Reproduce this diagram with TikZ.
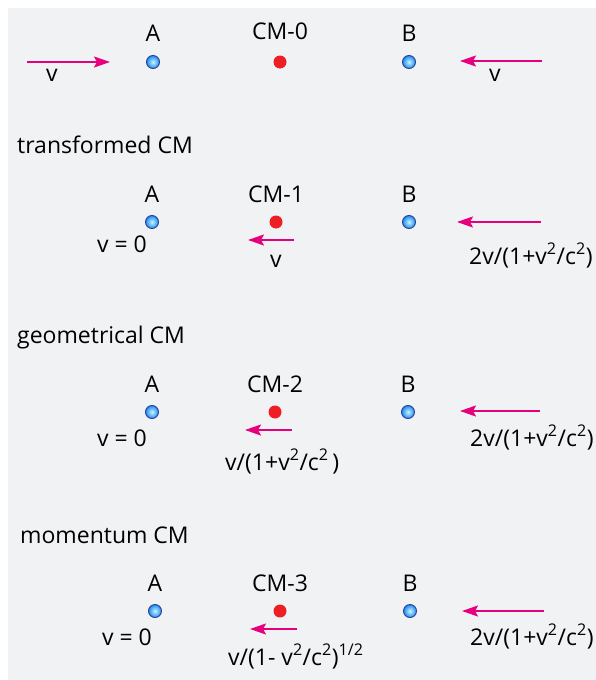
\documentclass[tikz,border=0pt]{standalone}
\usepackage{fontspec}
\setmainfont{Open Sans}
\usetikzlibrary{arrows.meta}
\definecolor{bg}{RGB}{241,242,244}
\definecolor{mag}{RGB}{230,0,126}
\definecolor{cmred}{RGB}{237,30,36}
\definecolor{dotblue}{RGB}{30,140,235}
\definecolor{dotin}{RGB}{200,245,255}
\definecolor{dotrim}{RGB}{40,60,160}
\newcommand{\mysup}[1]{\textsuperscript{#1}}
\newcommand{\vsqc}{v\mysup{2}/c\mysup{2}}
\begin{document}
\begin{tikzpicture}[x=1pt,y=-1pt,
  lbl/.style={inner sep=0pt, anchor=base, font=\fontsize{23}{27}\selectfont},
  lblw/.style={lbl, anchor=base west},
  bdot/.style={circle, minimum size=13pt, inner sep=0pt, draw=dotrim, line width=0.9pt, inner color=dotin, outer color=dotblue},
  rdot/.style={circle, minimum size=13pt, inner sep=0pt, fill=cmred},
  varrow/.style={draw=mag, line width=2pt, -{Stealth[length=16pt,width=11pt,inset=3pt]}}]
\useasboundingbox (0,0) rectangle (596,680);
\fill[bg] (8,8) rectangle (596,680);
% Row 0
\node[bdot] (A0) at (153,62) {};
\node[lbl] (A0l) at (153,41) {A};
\node[rdot] (C0) at (280,62) {};
\node[lbl] (C0l) at (280,39) {CM-0};
\node[bdot] (B0) at (409,62) {};
\node[lbl] (B0l) at (409,41) {B};
\coordinate (L0s) at (27,62); \coordinate (L0e) at (110,62);
\draw[varrow] (L0s) -- (L0e);
\node[lbl] (L0v) at (52,81) {v};
\coordinate (R0s) at (542,61); \coordinate (R0e) at (460,61);
\draw[varrow] (R0s) -- (R0e);
\node[lbl] (R0v) at (495,81) {v};
% Title 1
\node[lblw] (t1) at (17,153) {transformed CM};
% Row 1
\node[bdot] (A1) at (152,222) {};
\node[lbl] (A1l) at (152,202) {A};
\node[rdot] (C1) at (276,222) {};
\node[lbl] (C1l) at (276,202) {CM-1};
\node[bdot] (B1) at (409,222) {};
\node[lbl] (B1l) at (409,202) {B};
\node[lbl] (A1v) at (122,252) {v = 0};
\coordinate (C1s) at (294,240); \coordinate (C1e) at (248,240);
\draw[varrow] (C1s) -- (C1e);
\node[lbl] (C1v) at (276,267) {v};
\coordinate (B1s) at (541,222); \coordinate (B1e) at (457,222);
\draw[varrow] (B1s) -- (B1e);
\node[lblw] (B1v) at (469,264) {2v/(1+\vsqc)};
% Title 2
\node[lblw] (t2) at (17,343) {geometrical CM};
% Row 2
\node[bdot] (A2) at (152,412) {};
\node[lbl] (A2l) at (152,392) {A};
\node[rdot] (C2) at (275,412) {};
\node[lbl] (C2l) at (275,392) {CM-2};
\node[bdot] (B2) at (408,412) {};
\node[lbl] (B2l) at (408,392) {B};
\node[lbl] (A2v) at (122,446) {v = 0};
\coordinate (C2s) at (292,430); \coordinate (C2e) at (245,430);
\draw[varrow] (C2s) -- (C2e);
\node[lblw] (C2v) at (225,470) {v/(1+\vsqc\,)};
\coordinate (B2s) at (540,411); \coordinate (B2e) at (460,411);
\draw[varrow] (B2s) -- (B2e);
\node[lblw] (B2v) at (470,446) {2v/(1+\vsqc)};
% Title 3
\node[lblw] (t3) at (20,543) {momentum CM};
% Row 3
\node[bdot] (A3) at (155,611) {};
\node[lbl] (A3l) at (155,591) {A};
\node[rdot] (C3) at (280,611) {};
\node[lbl] (C3l) at (280,591) {CM-3};
\node[bdot] (B3) at (410,611) {};
\node[lbl] (B3l) at (410,591) {B};
\node[lbl] (A3v) at (127,645) {v = 0};
\coordinate (C3s) at (297,629); \coordinate (C3e) at (250,629);
\draw[varrow] (C3s) -- (C3e);
\node[lblw] (C3v) at (228,665) {v/(1- \vsqc)\mysup{1/2}};
\coordinate (B3s) at (544,611); \coordinate (B3e) at (462,611);
\draw[varrow] (B3s) -- (B3e);
\node[lblw] (B3v) at (470,645) {2v/(1+\vsqc)};
\end{tikzpicture}
\end{document}
